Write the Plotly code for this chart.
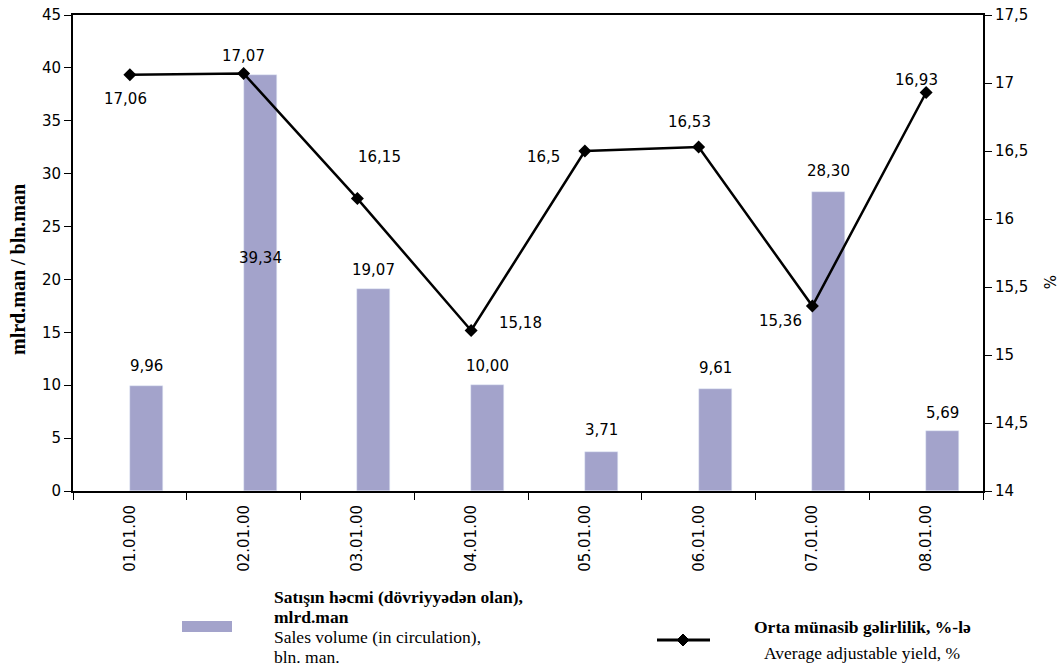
import plotly.graph_objects as go

categories = ["01.01.00", "02.01.00", "03.01.00", "04.01.00", "05.01.00", "06.01.00", "07.01.00", "08.01.00"]
sales_volume = [9.96, 39.34, 19.07, 10.00, 3.71, 9.61, 28.30, 5.69]
avg_yield = [17.06, 17.07, 16.15, 15.18, 16.5, 16.53, 15.36, 16.93]

# label placement offsets (pixels)
bar_label_yshift = [20, -183, 19, 19, 22, 21, 21, 18]
line_label_xshift = [-4, 0, 22, 49, -41, -9, -32, -10]
line_label_yshift = [-24, 17, 42, 8, -6, 25, -15, 13]

BAR_COLOR = "#A3A3CB"
TICK_FONT = dict(family="DejaVu Sans", size=15, color="black")

fig = go.Figure()
fig.add_trace(go.Bar(
    x=categories, y=sales_volume, marker_color=BAR_COLOR,
    width=0.29, offset=0.0, showlegend=False, yaxis="y",
))
fig.add_trace(go.Scatter(
    x=categories, y=avg_yield, mode="lines+markers", yaxis="y2",
    line=dict(color="black", width=2.5),
    marker=dict(symbol="diamond", size=10, color="black"),
    showlegend=False,
))

ann = []
for i, (c, v) in enumerate(zip(categories, sales_volume)):
    ann.append(dict(x=i + 0.145, y=v, xref="x", yref="y", text=f"{v:.2f}".replace(".", ","),
                    showarrow=False, yshift=bar_label_yshift[i], font=TICK_FONT))
for i, (c, v) in enumerate(zip(categories, avg_yield)):
    ann.append(dict(x=i, y=v, xref="x", yref="y2", text=f"{v:g}".replace(".", ","),
                    showarrow=False, xshift=line_label_xshift[i], yshift=line_label_yshift[i],
                    font=TICK_FONT))

SERIF = "Liberation Serif"
def px_x(p):
    return (p - 73) / 910
def px_y(p):
    return (491 - p) / 476

legend_lines = [
    ("<b>Satışın həcmi (dövriyyədən olan),</b>", 597),
    ("<b>mlrd.man</b>", 617),
    ("Sales volume (in circulation),", 637),
    ("bln. man.", 657),
]
for t, yy in legend_lines:
    ann.append(dict(x=px_x(272), y=px_y(yy), xref="paper", yref="paper", text=t,
                    showarrow=False, xanchor="left", yanchor="middle",
                    font=dict(family=SERIF, size=17.5, color="black")))
ann.append(dict(x=px_x(862), y=px_y(627), xref="paper", yref="paper",
                text="<b>Orta münasib gəlirlilik, %-lə</b>", showarrow=False,
                xanchor="center", yanchor="middle", font=dict(family=SERIF, size=17.5, color="black")))
ann.append(dict(x=px_x(862), y=px_y(653), xref="paper", yref="paper",
                text="Average adjustable yield, %", showarrow=False,
                xanchor="center", yanchor="middle", font=dict(family=SERIF, size=17.5, color="black")))
# axis titles placed as annotations for exact position
ann.append(dict(x=px_x(18), y=px_y(270), xref="paper", yref="paper",
                text="<b>mlrd.man / bln.man</b>", showarrow=False, textangle=-90,
                xanchor="center", yanchor="middle", font=dict(family=SERIF, size=20, color="black")))
ann.append(dict(x=px_x(1049), y=px_y(282), xref="paper", yref="paper",
                text="%", showarrow=False, textangle=90,
                xanchor="center", yanchor="middle", font=dict(family="DejaVu Sans", size=15, color="black")))

shapes = [
    dict(type="rect", xref="paper", yref="paper", x0=px_x(182), x1=px_x(232),
         y0=px_y(632), y1=px_y(621), fillcolor=BAR_COLOR, line=dict(width=0)),
    dict(type="line", xref="paper", yref="paper", x0=px_x(657), x1=px_x(710),
         y0=px_y(640), y1=px_y(640), line=dict(color="black", width=3)),
    dict(type="path", xref="paper", yref="paper", xsizemode="pixel", ysizemode="pixel",
         xanchor=px_x(683), yanchor=px_y(640), path="M -6 0 L 0 6 L 6 0 L 0 -6 Z",
         fillcolor="black", line=dict(color="black", width=1)),
]

fig.update_layout(
    width=1063, height=672,
    margin=dict(l=73, r=80, t=15, b=181, autoexpand=False),
    plot_bgcolor="white", paper_bgcolor="white",
    separators=", ",
    showlegend=False,
    bargap=0,
    hovermode=False,
    xaxis=dict(type="category", range=[-0.5, 7.5], tickson="boundaries", ticks="outside",
               ticklen=7, tickcolor="black", showline=True, linecolor="black", linewidth=2,
               mirror=True, tickangle=-90, tickfont=dict(family="DejaVu Sans", size=15, color="black"),
               ticklabelstandoff=6,
               showgrid=False, zeroline=False, automargin=False),
    yaxis=dict(range=[0, 45], dtick=5, ticks="outside", ticklen=7, tickcolor="black",
               showline=True, linecolor="black", linewidth=2, showgrid=False, zeroline=False,
               tickfont=TICK_FONT, automargin=False, ticklabeloverflow="allow"),
    yaxis2=dict(range=[14, 17.5], dtick=0.5, overlaying="y", side="right", ticks="outside",
                ticklen=7, tickcolor="black", showline=True, linecolor="black", linewidth=2,
                showgrid=False, zeroline=False, tickfont=TICK_FONT, automargin=False,
                ticklabeloverflow="allow"),
    annotations=ann,
    shapes=shapes,
)

# remove the default page margin so the figure fills the window exactly
fig.write_html("out.html",
               config={"displayModeBar": False},
               post_script="document.body.style.margin='0';document.body.style.overflow='hidden';")
